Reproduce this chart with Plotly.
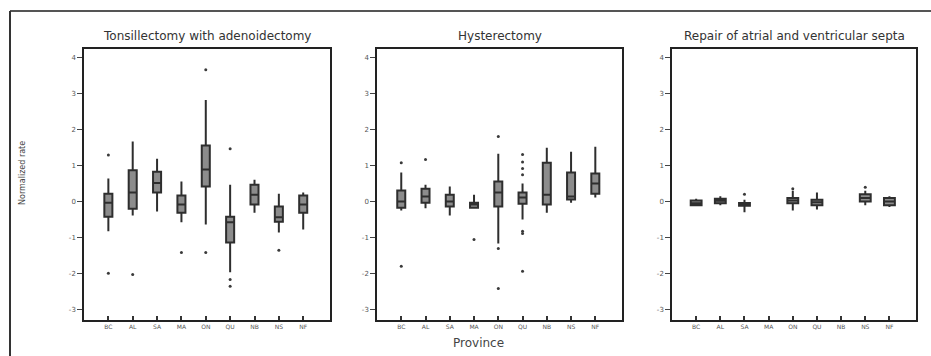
import plotly.graph_objects as go

provinces = ["BC", "AL", "SA", "MA", "ON", "QU", "NB", "NS", "NF"]
y_ticks = [-3, -2, -1, 0, 1, 2, 3, 4]
y_tick_labels = ["-3", "-2", "-1", "0", "1", "2", "3", "4"]
titles = ["Tonsillectomy with adenoidectomy", "Hysterectomy", "Repair of atrial and ventricular septa"]

# Panel 1: Tonsillectomy with adenoidectomy
p1_x = ["BC", "AL", "SA", "MA", "ON", "QU", "NB", "NS", "NF"]
p1_low = [-0.83, -0.39, -0.28, -0.58, -0.64, -1.97, -0.31, -0.86, -0.78]
p1_q1 = [-0.42, -0.20, 0.25, -0.31, 0.42, -1.14, -0.08, -0.56, -0.31]
p1_med = [-0.03, 0.25, 0.52, -0.08, 0.89, -0.58, 0.19, -0.44, -0.08]
p1_q3 = [0.22, 0.87, 0.83, 0.17, 1.56, -0.42, 0.47, -0.14, 0.17]
p1_up = [0.64, 1.67, 1.19, 0.56, 2.83, 0.47, 0.61, 0.22, 0.25]
p1_out_x = ["BC", "BC", "AL", "MA", "ON", "ON", "QU", "QU", "QU", "NS"]
p1_out_y = [1.30, -2.00, -2.03, -1.42, 3.67, -1.42, 1.47, -2.17, -2.36, -1.36]

# Panel 2: Hysterectomy
p2_x = ["BC", "AL", "SA", "MA", "ON", "QU", "NB", "NS", "NF"]
p2_low = [-0.25, -0.19, -0.39, -0.20, -1.17, -0.50, -0.31, -0.03, 0.11]
p2_q1 = [-0.17, -0.03, -0.14, -0.17, -0.14, -0.06, -0.08, 0.06, 0.22]
p2_med = [0.00, 0.14, 0.00, -0.08, 0.25, 0.11, 0.19, 0.14, 0.50]
p2_q3 = [0.31, 0.36, 0.19, -0.03, 0.56, 0.25, 1.08, 0.81, 0.78]
p2_up = [0.81, 0.47, 0.42, 0.19, 1.33, 0.50, 1.50, 1.39, 1.53]
p2_out_x = ["BC", "BC", "AL", "MA", "ON", "ON", "ON", "QU", "QU", "QU", "QU", "QU", "QU", "QU"]
p2_out_y = [1.08, -1.80, 1.17, -1.06, 1.81, -1.31, -2.42, 1.31, 1.10, 0.92, 0.75, -0.83, -0.89, -1.94]

# Panel 3: Repair of atrial and ventricular septa
p3_x = ["BC", "AL", "SA", "ON", "QU", "NS", "NF"]
p3_low = [-0.12, -0.10, -0.30, -0.25, -0.22, -0.10, -0.15]
p3_q1 = [-0.10, -0.05, -0.12, -0.05, -0.10, 0.00, -0.10]
p3_med = [-0.05, 0.02, -0.08, 0.03, -0.02, 0.10, 0.00]
p3_q3 = [0.03, 0.08, -0.04, 0.10, 0.05, 0.20, 0.10]
p3_up = [0.08, 0.15, 0.05, 0.30, 0.25, 0.30, 0.15]
p3_out_x = ["SA", "ON", "NS"]
p3_out_y = [0.20, 0.36, 0.40]

W, H = 931, 356
panels_px = [(84, 330), (377, 622), (672, 916)]
top_px, bot_px = 49, 320

fig = go.Figure()
data = [
    (p1_x, p1_low, p1_q1, p1_med, p1_q3, p1_up, p1_out_x, p1_out_y),
    (p2_x, p2_low, p2_q1, p2_med, p2_q3, p2_up, p2_out_x, p2_out_y),
    (p3_x, p3_low, p3_q1, p3_med, p3_q3, p3_up, p3_out_x, p3_out_y),
]

for i, (bx, lo, q1, med, q3, up, ox, oy) in enumerate(data):
    ax = "" if i == 0 else str(i + 1)
    bw = 0.33 if i < 2 else 0.45
    fig.add_trace(go.Box(
        x=bx, q1=q1, median=med, q3=q3, lowerfence=lo, upperfence=up,
        xaxis="x" + ax, yaxis="y" + ax, boxpoints=False,
        fillcolor="#8c8c8c", line=dict(color="#2e2e2e", width=2),
        whiskerwidth=0, width=bw, showlegend=False, hoverinfo="skip",
    ))
    fig.add_trace(go.Scatter(
        x=ox, y=oy, mode="markers", xaxis="x" + ax, yaxis="y" + ax,
        marker=dict(size=3, color="#3a3a3a"), showlegend=False, hoverinfo="skip",
    ))
    x0, x1 = panels_px[i]
    xa = dict(
        domain=[x0 / W, x1 / W], type="category", categoryorder="array",
        categoryarray=provinces, range=[-1, 9.1], showline=True, mirror=True,
        linecolor="#222", linewidth=1.5, ticks="inside", ticklen=4, tickwidth=1.5,
        tickcolor="#333", tickfont=dict(size=6, color="#555", family="DejaVu Sans"),
        showgrid=False, zeroline=False, anchor="y" + ax, fixedrange=True,
    )
    ya = dict(
        domain=[(H - bot_px) / H, (H - top_px) / H], range=[-3.3, 4.25],
        tickvals=y_ticks, ticktext=y_tick_labels, showline=True, mirror=True,
        linecolor="#222", linewidth=1.5, ticks="outside", ticklen=5,
        tickcolor="#444", tickfont=dict(size=7, color="#555", family="DejaVu Sans"),
        showgrid=False, zeroline=False, anchor="x" + ax, fixedrange=True,
    )
    fig.update_layout(**{"xaxis" + ax: xa, "yaxis" + ax: ya})
    fig.add_annotation(
        text=titles[i], x=(x0 + x1) / 2 / W, y=(H - 36) / H, xref="paper", yref="paper",
        showarrow=False, font=dict(size=12, color="#333", family="DejaVu Sans"),
        xanchor="center", yanchor="middle",
    )

fig.add_annotation(text="Province", x=478 / W, y=(H - 343) / H, xref="paper", yref="paper",
                   showarrow=False, font=dict(size=12, color="#444", family="DejaVu Sans"),
                   xanchor="center", yanchor="middle")
fig.add_annotation(text="Normalized rate", x=22 / W, y=(H - 173) / H, xref="paper", yref="paper",
                   showarrow=False, textangle=-90,
                   font=dict(size=8, color="#444", family="DejaVu Sans"),
                   xanchor="center", yanchor="middle")

# figure frame
fig.add_shape(type="line", xref="paper", yref="paper", x0=10 / W, x1=1, y0=(H - 11) / H, y1=(H - 11) / H,
              line=dict(color="#555", width=2))
fig.add_shape(type="line", xref="paper", yref="paper", x0=10 / W, x1=10 / W, y0=0, y1=(H - 11) / H,
              line=dict(color="#333", width=2))

fig.update_layout(width=W, height=H, margin=dict(l=0, r=0, t=0, b=0),
                  paper_bgcolor="white", plot_bgcolor="white")

fig.write_html("out.html")
